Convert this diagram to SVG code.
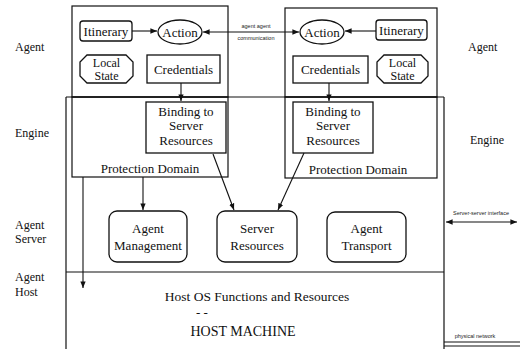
<svg xmlns="http://www.w3.org/2000/svg" width="520" height="349" viewBox="0 0 520 349">
<defs>
<style>
.t{font-family:"Liberation Serif","Times New Roman",serif;fill:#111;text-anchor:middle}
.n{font-size:13px}
.m{font-size:12px}
.l{font-size:12px;text-anchor:start}
.s{font-family:"Liberation Sans",Arial,sans-serif;font-size:5.5px;fill:#222;text-anchor:middle}
.b{fill:#fff;stroke:#111;stroke-width:1.3}
.ln{fill:none;stroke:#111;stroke-width:1.2}
.c{fill:none;stroke:#111;stroke-width:1.1}
</style>
<marker id="ah" viewBox="0 0 10 10" refX="10" refY="5" markerWidth="6" markerHeight="6" orient="auto-start-reverse">
<path d="M0,1 L10,5 L0,9 z" fill="#111"/>
</marker>
</defs>
<rect width="520" height="349" fill="#fff"/>

<g id="layer-labels">
<text class="t l" x="15" y="51">Agent</text>
<text class="t l" x="15" y="137">Engine</text>
<text class="t l" x="15" y="229">Agent</text>
<text class="t l" x="15" y="243">Server</text>
<text class="t l" x="15" y="281">Agent</text>
<text class="t l" x="15" y="296">Host</text>
<text class="t l" x="468" y="51">Agent</text>
<text class="t l" x="470" y="144">Engine</text>
</g>

<g id="frame">
<line class="ln" x1="66" y1="97" x2="444" y2="97"/>
<line class="ln" x1="66" y1="97" x2="66" y2="349"/>
<line class="ln" x1="444" y1="97" x2="444" y2="349"/>
<line class="ln" x1="66" y1="272" x2="444" y2="272"/>
</g>

<g id="agent-left">
<rect class="ln" x="72" y="6" width="156" height="91"/>
</g>
<g id="agent-right">
<rect class="ln" x="285" y="8" width="152" height="89"/>
</g>

<g id="protection-left">
<rect class="ln" x="72" y="97" width="156" height="80"/>
<text class="t n" x="150" y="173">Protection Domain</text>
</g>
<g id="protection-right">
<rect class="ln" x="285" y="97" width="152" height="81"/>
<text class="t n" x="358" y="174">Protection Domain</text>
</g>

<g id="itinerary-left">
<rect class="b" x="80" y="21" width="52" height="20" rx="3"/>
<text class="t n" x="106" y="35.5">Itinerary</text>
</g>
<g id="action-left">
<ellipse class="b" cx="180" cy="32" rx="22" ry="12"/>
<text class="t n" x="180" y="36.5">Action</text>
</g>
<g id="localstate-left">
<polygon class="b" points="87,55 126,55 133,62 133,76 126,83 87,83 80,76 80,62"/>
<text class="t m" x="106.5" y="67">Local</text>
<text class="t m" x="106.5" y="80">State</text>
</g>
<g id="credentials-left">
<rect class="b" x="147" y="55" width="73" height="28"/>
<text class="t n" x="183.5" y="73.5">Credentials</text>
</g>

<g id="itinerary-right">
<rect class="b" x="376" y="20" width="51" height="20" rx="3"/>
<text class="t n" x="401.5" y="34.5">Itinerary</text>
</g>
<g id="action-right">
<ellipse class="b" cx="322" cy="32" rx="22" ry="12"/>
<text class="t n" x="322" y="36.5">Action</text>
</g>
<g id="localstate-right">
<polygon class="b" points="384,55 421,55 428,62 428,76 421,83 384,83 377,76 377,62"/>
<text class="t m" x="402.5" y="67">Local</text>
<text class="t m" x="402.5" y="80">State</text>
</g>
<g id="credentials-right">
<rect class="b" x="293" y="56" width="75" height="27"/>
<text class="t n" x="330.5" y="74">Credentials</text>
</g>

<g id="binding-left">
<rect class="b" x="146" y="102" width="80" height="51"/>
<text class="t n" x="186" y="116">Binding to</text>
<text class="t n" x="186" y="130">Server</text>
<text class="t n" x="186" y="145">Resources</text>
</g>
<g id="binding-right">
<rect class="b" x="293" y="102" width="80" height="51"/>
<text class="t n" x="333" y="116">Binding to</text>
<text class="t n" x="333" y="130">Server</text>
<text class="t n" x="333" y="145">Resources</text>
</g>

<g id="agent-management">
<rect class="b" x="109" y="211" width="78" height="51" rx="8"/>
<text class="t n" x="148" y="233">Agent</text>
<text class="t n" x="148" y="250">Management</text>
</g>
<g id="server-resources">
<rect class="b" x="217" y="211" width="80" height="51" rx="8"/>
<text class="t n" x="257" y="233">Server</text>
<text class="t n" x="257" y="250">Resources</text>
</g>
<g id="agent-transport">
<rect class="b" x="327" y="212" width="79" height="50" rx="8"/>
<text class="t n" x="366.5" y="233">Agent</text>
<text class="t n" x="366.5" y="250">Transport</text>
</g>

<g id="host">
<text class="t" style="font-size:13.5px" x="257" y="301">Host OS Functions and Resources</text>
<text class="t n" x="202" y="317">- -</text>
<text class="t" style="font-size:14px" x="243" y="336">HOST MACHINE</text>
</g>

<g id="connectors">
<line class="c" x1="132" y1="31" x2="157" y2="31" marker-end="url(#ah)"/>
<line class="c" x1="376" y1="31" x2="345" y2="31" marker-end="url(#ah)"/>
<line class="c" x1="203" y1="32" x2="299" y2="32" marker-start="url(#ah)" marker-end="url(#ah)"/>
<text class="s" x="256" y="28">agent agent</text>
<text class="s" x="256" y="40">communication</text>
<line class="c" x1="181" y1="83" x2="181" y2="101" marker-end="url(#ah)"/>
<line class="c" x1="329" y1="83" x2="329" y2="101" marker-end="url(#ah)"/>
<line class="c" x1="143" y1="177" x2="143" y2="210" marker-end="url(#ah)"/>
<line class="c" x1="213" y1="154" x2="234" y2="210" marker-end="url(#ah)"/>
<line class="c" x1="304" y1="153" x2="278" y2="210" marker-end="url(#ah)"/>
<line class="c" x1="83" y1="177" x2="83" y2="288" marker-end="url(#ah)"/>
<line class="c" x1="446" y1="222" x2="517" y2="222" marker-start="url(#ah)" marker-end="url(#ah)"/>
<text class="s" x="481" y="215">Server-server interface</text>
<text class="s" x="475" y="338">physical network</text>
<line class="c" x1="444" y1="342" x2="520" y2="342"/>
<line class="c" x1="444" y1="346" x2="520" y2="346"/>
</g>
</svg>
